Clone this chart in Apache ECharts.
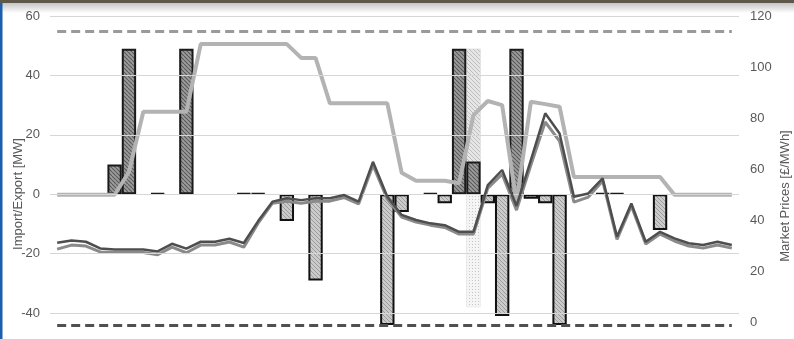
<!DOCTYPE html>
<html>
<head>
<meta charset="utf-8">
<script src="https://cdn.jsdelivr.net/npm/echarts@6/dist/echarts.min.js"></script>
<style>
  html, body { margin: 0; padding: 0; background: #fff; }
  #chart { width: 794px; height: 339px; }
</style>
</head>
<body>
<div id="chart"></div>
<script>
// Half-hourly settlement periods of the day
const periods = [
  '1','2','3','4','5','6','7','8','9','10','11','12',
  '13','14','15','16','17','18','19','20','21','22','23','24',
  '25','26','27','28','29','30','31','32','33','34','35','36',
  '37','38','39','40','41','42','43','44','45','46','47','48'
];

// Interconnector flows [MW] (positive = import, negative = export)
const importMW = [
  null, null, null, null, 10, 49, null, 0,
  null, 49, null, null, null, 0, 0, null,
  null, null, null, null, null, null, null, null,
  null, null, 0, null, 49, 11, null, null,
  49, null, null, null, null, null, 0, 0,
  null, null, null, null, null, null, null, null
];
const exportMW = [
  null, null, null, null, null, null, null, null,
  null, null, null, null, null, null, null, null,
  -9, null, -29, null, null, null, null, -44,
  -6, null, null, -3, null, null, -3, -41,
  null, -1.5, -3, -44, null, null, null, null,
  null, null, -12, null, null, null, null, null
];
const offeredMW = [
  null, null, null, null, null, null, null, null,
  null, null, null, null, null, null, null, null,
  null, null, null, null, null, null, null, null,
  null, null, null, null, null, 49, null, null,
  null, null, null, null, null, null, null, null,
  null, null, null, null, null, null, null, null
];
const curtailedMW = [
  null, null, null, null, null, null, null, null,
  null, null, null, null, null, null, null, null,
  null, null, null, null, null, null, null, null,
  null, null, null, null, null, -38, null, null,
  null, null, null, null, null, null, null, null,
  null, null, null, null, null, null, null, null
];

// Market prices [£/MWh]
const priceDark = [
  31.2, 32.1, 31.6, 29.0, 28.6, 28.6, 28.6, 27.8,
  30.8, 28.9, 31.6, 31.6, 32.8, 31.1, 39.7, 47.3,
  48.6, 47.9, 48.6, 48.6, 49.9, 47.3, 62.9, 49.2,
  42.1, 40.1, 38.8, 38.1, 35.5, 35.5, 53.8, 59.7,
  45.6, 63.6, 81.9, 74.0, 49.2, 50.5, 56.4, 33.6,
  46.6, 31.6, 35.5, 32.9, 31.0, 30.3, 31.6, 30.3
];
const priceMid = [
  28.7, 30.3, 29.9, 27.6, 27.4, 27.4, 27.4, 26.5,
  29.5, 27.3, 30.3, 30.3, 31.5, 29.5, 38.9, 46.7,
  47.5, 46.7, 47.5, 47.5, 48.9, 46.4, 61.6, 48.3,
  41.3, 39.3, 38.1, 37.2, 34.6, 34.6, 52.6, 58.1,
  44.0, 61.6, 78.5, 71.0, 47.1, 49.1, 55.4, 32.5,
  45.6, 30.7, 34.6, 31.9, 29.9, 29.1, 30.3, 29.1
];
const priceStep = [
  50, 50, 50, 50, 50, 58.9, 82.5, 82.5,
  82.5, 82.5, 109, 109, 109, 109, 109, 109,
  109, 103.6, 103.6, 85.8, 85.8, 85.8, 85.8, 85.8,
  58.6, 55.5, 55.5, 55.5, 54.5, 81.2, 86.7, 85.1,
  47, 86.4, 85.5, 84.5, 57, 57, 57, 57,
  57, 57, 57, 50, 50, 50, 50, 50
];

// Capacity limits [MW]
const importLimit = 55;
const exportLimit = -44;

// Axis ranges and labelled values
const mwMin = -44, mwMax = 60;
const mwLabels = [-40, -20, 0, 20, 40, 60];
const priceMin = -1, priceMax = 120;
const priceStepLabel = 20;

// Tile patterns for the column fills
function hatchTile(bg, fg, size, lw) {
  const c = document.createElement('canvas');
  c.width = size; c.height = size;
  const g = c.getContext('2d');
  g.fillStyle = bg;
  g.fillRect(0, 0, size, size);
  g.strokeStyle = fg;
  g.lineWidth = lw;
  g.beginPath();
  for (let k = -1; k <= 1; k++) {
    g.moveTo(k * size, 0);
    g.lineTo(k * size + size, size);
  }
  g.stroke();
  return { image: c, repeat: 'repeat' };
}
function dotTile(bg, fg) {
  const c = document.createElement('canvas');
  c.width = 3; c.height = 3;
  const g = c.getContext('2d');
  g.fillStyle = bg;
  g.fillRect(0, 0, 3, 3);
  g.fillStyle = fg;
  g.fillRect(1, 1, 1, 1);
  return { image: c, repeat: 'repeat' };
}

const darkHatch = hatchTile('#9c9c9c', '#5a5a5a', 4, 1.1);
const lightHatch = hatchTile('#cbcbcb', '#9c9c9c', 4, 1);
const paleHatch = hatchTile('#e6e6e6', '#bdbdbd', 4, 1);
const dots = dotTile('#f5f5f5', '#c6c6c6');

const labelFont = { color: '#595959', fontSize: 13, fontFamily: 'Liberation Sans, Arial, sans-serif' };

const barBase = {
  type: 'bar',
  yAxisIndex: 0,
  barGap: '-100%',
  barCategoryGap: 0,
  z: 2,
  silent: true
};

const chart = echarts.init(document.getElementById('chart'), null, { renderer: 'canvas' });
chart.setOption({
  animation: false,
  backgroundColor: '#ffffff',
  grid: { left: 50, right: 55, top: 16, bottom: 14 },
  xAxis: { type: 'category', data: periods, show: false, boundaryGap: true },
  yAxis: [
    {
      type: 'value', min: mwMin, max: mwMax, interval: 4,
      axisLine: { show: false }, axisTick: { show: false }, splitLine: { show: false },
      axisLabel: Object.assign({ margin: 10, formatter: v => (mwLabels.indexOf(v) >= 0 ? String(v) : '') }, labelFont)
    },
    {
      type: 'value', min: priceMin, max: priceMax, interval: 1, position: 'right',
      axisLine: { show: false }, axisTick: { show: false }, splitLine: { show: false },
      axisLabel: Object.assign({ margin: 11, formatter: v => (v >= 0 && v % priceStepLabel === 0 ? String(v) : '') }, labelFont)
    }
  ],
  series: [
    {
      // horizontal gridlines on the MW scale
      type: 'line', yAxisIndex: 0, data: [], z: 0, silent: true,
      markLine: {
        silent: true, symbol: 'none', animation: false,
        label: { show: false },
        lineStyle: { color: '#d6d6d6', width: 1.2, type: 'solid' },
        data: mwLabels.map(v => ({ yAxis: v }))
      }
    },
    Object.assign({}, barBase, {
      name: 'Offered', data: offeredMW,
      itemStyle: { color: paleHatch, borderColor: '#d0d0d0', borderWidth: 0.5 }
    }),
    Object.assign({}, barBase, {
      name: 'Curtailed', data: curtailedMW,
      itemStyle: { color: dots, borderColor: '#dedede', borderWidth: 0.5 }
    }),
    Object.assign({}, barBase, {
      name: 'Export', data: exportMW,
      itemStyle: { color: lightHatch, borderColor: '#111111', borderWidth: 2 }
    }),
    Object.assign({}, barBase, {
      name: 'Import', data: importMW, barMinHeight: 1,
      itemStyle: { color: darkHatch, borderColor: '#1a1a1a', borderWidth: 2 }
    }),
    {
      name: 'Stepped price', type: 'line', yAxisIndex: 1, data: priceStep, z: 3,
      symbol: 'none', silent: true,
      lineStyle: { color: '#b3b3b3', width: 4 }
    },
    {
      name: 'Price B', type: 'line', yAxisIndex: 1, data: priceMid, z: 4,
      symbol: 'none', silent: true,
      lineStyle: { color: '#8a8a8a', width: 3 }
    },
    {
      name: 'Price A', type: 'line', yAxisIndex: 1, data: priceDark, z: 5,
      symbol: 'none', silent: true,
      lineStyle: { color: '#4e4e4e', width: 2.5 }
    },
    {
      // import / export capacity limits
      type: 'line', yAxisIndex: 0, data: [], z: 6, silent: true,
      markLine: {
        silent: true, symbol: 'none', animation: false,
        label: { show: false },
        data: [
          [
            { coord: [periods[0], importLimit], lineStyle: { color: '#9a9a9a', width: 3, type: [9, 5] } },
            { coord: [periods[periods.length - 1], importLimit] }
          ],
          [
            { coord: [periods[0], exportLimit], lineStyle: { color: '#505050', width: 3, type: [9, 5] } },
            { coord: [periods[periods.length - 1], exportLimit] }
          ]
        ]
      }
    }
  ],
  graphic: [
    {
      type: 'rect', z: -1, silent: true,
      shape: { x: 0, y: 0, width: 794, height: 3 },
      style: { fill: '#5d584a' }
    },
    {
      type: 'rect', z: -1, silent: true,
      shape: { x: 0, y: 3, width: 794, height: 10 },
      style: {
        fill: {
          type: 'linear', x: 0, y: 0, x2: 0, y2: 1,
          colorStops: [{ offset: 0, color: '#c4c4c4' }, { offset: 1, color: '#ffffff' }]
        }
      }
    },
    {
      type: 'rect', z: 10, silent: true,
      shape: { x: 0, y: 3, width: 2.5, height: 336 },
      style: { fill: '#1d5fae' }
    },
    {
      type: 'text', silent: true, x: 18, y: 194, rotation: Math.PI / 2,
      style: {
        text: 'Import/Export [MW]', fill: '#595959',
        font: '13px "Liberation Sans", Arial, sans-serif',
        align: 'center', verticalAlign: 'middle'
      }
    },
    {
      type: 'text', silent: true, x: 785, y: 196, rotation: Math.PI / 2,
      style: {
        text: 'Market Prices [£/MWh]', fill: '#595959',
        font: '13px "Liberation Sans", Arial, sans-serif',
        align: 'center', verticalAlign: 'middle'
      }
    }
  ]
});
</script>
</body>
</html>
